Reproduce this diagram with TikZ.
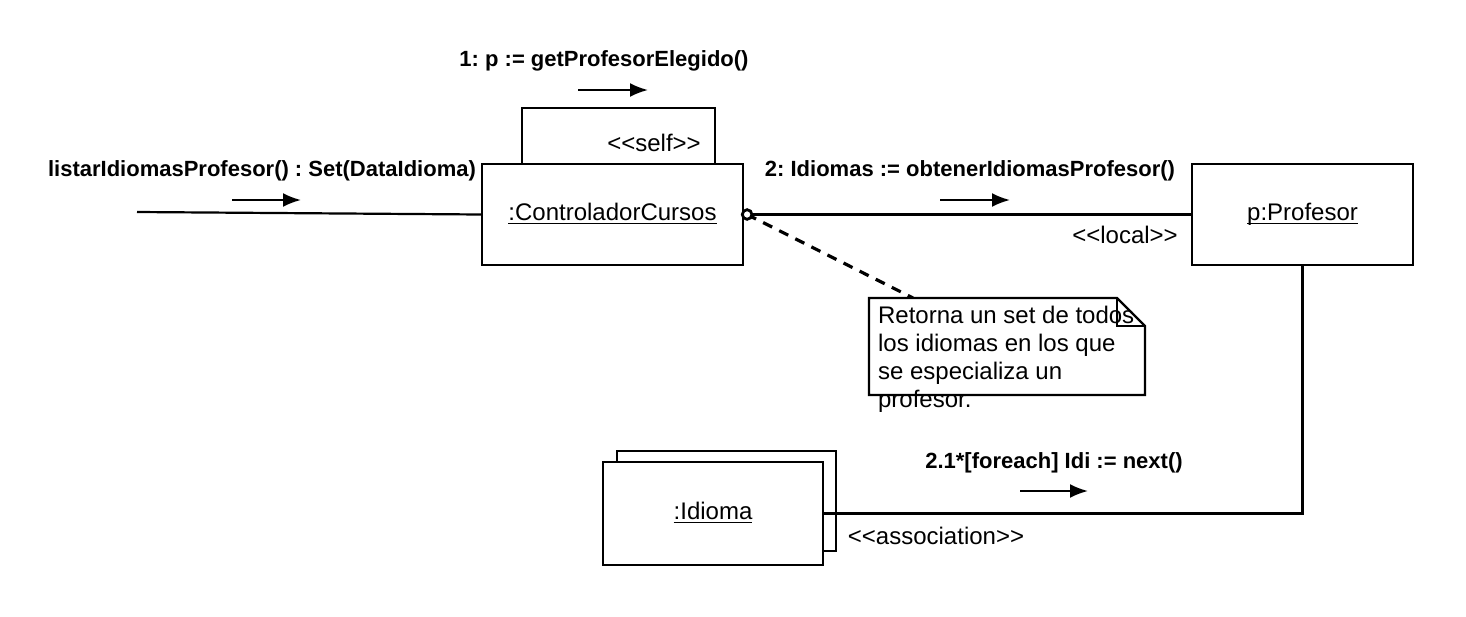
\documentclass[tikz,border=0pt]{standalone}
\usepackage{fontspec}
\setmainfont{Liberation Sans}
\usetikzlibrary{arrows.meta}
\frenchspacing
\newcommand\objname[1]{\underline{\smash{#1}}}
\newcommand\nodecc{\objname{:ControladorCursos}}
\newcommand\nodeprof{\objname{p:Profesor}}
\newcommand\nodeidi{\objname{:Idioma}}
\tikzstyle{objstyle} = [rectangle, draw=black, fill=white, text height=9pt, text depth=3pt, font=\fontsize{12}{14}\selectfont]
\tikzstyle{ctl} = [objstyle, minimum width=130.5pt, minimum height=50.5pt]
\tikzstyle{obj} = [objstyle, minimum width=110.5pt, minimum height=50.5pt]
\tikzstyle{msg} = [font=\fontsize{11}{13}\selectfont\bfseries]
\tikzstyle{stereo} = [font=\fontsize{12}{14}\selectfont]
\tikzstyle{dir} = [->]
\tikzstyle{notelink} = [line width=1.6pt, dash pattern=on 5pt off 4pt]
\tikzset{>={Latex[length=9pt,width=7pt]}, every picture/.style={line width=1.1pt}}

\begin{document}
\begin{tikzpicture}[x=0.5pt, y=-0.5pt]
\useasboundingbox (0,0) rectangle (1466,616);
\node[objstyle, minimum width=96.5pt, minimum height=28pt] (self) at (618.5,136) {};
\node[ctl] (cc) at (612.5,214.5) {\nodecc};
\node[obj] (prof) at (1302.5,214.5) {\nodeprof};
\node[objstyle, minimum width=109.5pt, minimum height=50pt] (idiback) at (726.5,501) {};
\node[obj, minimum width=110pt, minimum height=51.5pt] (idi) at (713,513.5) {\nodeidi};
\coordinate (start) at (137,212);
\coordinate (ring) at ([xshift=1.5pt]cc.east);
\coordinate (notetop) at (913,298);
\draw (start) -- (cc.west);
\draw (cc.east) -- (prof.west);
\draw (idi.east) -| (prof.south);
\draw[notelink] (ring) -- (notetop);
\draw[fill=white, line width=1.4pt] (ring) circle (2.4pt);
% note
\draw[fill=white] (869,298) -- (1117,298) -- (1145,326) -- (1145,395) -- (869,395) -- cycle;
\draw (1117,298) -- (1117,326) -- (1145,326);
\node[stereo, anchor=north west, inner sep=0pt, align=left] (note) at (877,305)
  {Retorna un set de todos\\los idiomas en los que\\se especializa un\\profesor.};
% messages
\node[msg] (m0) at (262,171) {listarIdiomasProfesor() : Set(DataIdioma)};
\node[msg] (m1) at (604,61) {1: p := getProfesorElegido()};
\node[msg] (m2) at (970,171) {2: Idiomas := obtenerIdiomasProfesor()};
\node[msg] (m21) at (1054,463) {2.1*[foreach] Idi := next()};
\node[stereo] (selflbl) at (654,143) {<{}<self>{}>};
\node[stereo] (local) at (1125,235) {<{}<local>{}>};
\node[stereo] (assoc) at (936,536) {<{}<association>{}>};
\draw[dir] (232,200) -- (301,200);
\draw[dir] (578,90) -- (648,90);
\draw[dir] (940,200) -- (1010,200);
\draw[dir] (1020,491) -- (1088,491);
\end{tikzpicture}
\end{document}
